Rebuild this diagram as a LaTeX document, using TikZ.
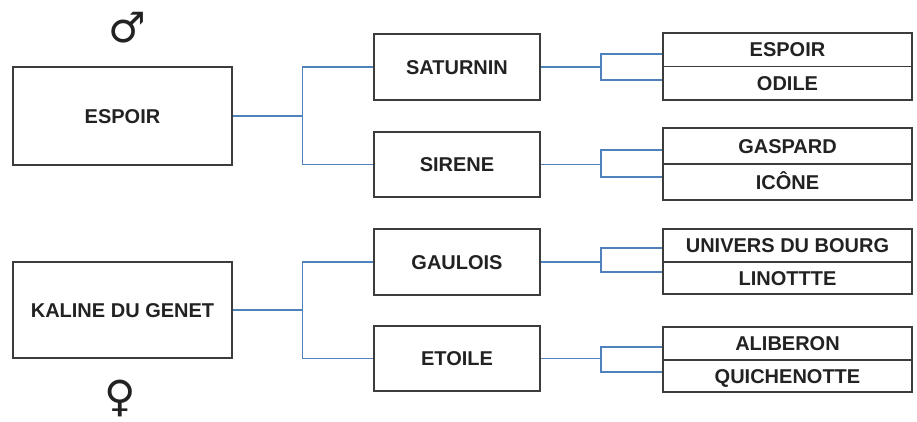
\documentclass[tikz,border=0pt]{standalone}
\usepackage{fontspec}
\setmainfont{Liberation Sans}
\newfontfamily\symfont{DejaVu Sans}
\definecolor{conncol}{RGB}{79,129,189}
\definecolor{boxcol}{RGB}{60,60,60}
\definecolor{txtcol}{RGB}{34,34,34}
\tikzset{
  box/.style={draw=boxcol, line width=1.5pt, rectangle, inner sep=0pt, text=txtcol,
    font=\fontsize{20}{24}\selectfont\bfseries, text height=14.3pt, text depth=0pt},
  conn/.style={draw=conncol, line width=1.6pt},
  sym/.style={text=txtcol, font=\symfont\fontsize{42}{46}\selectfont, inner sep=0pt}
}
\begin{document}
\begin{tikzpicture}[x=1pt,y=-1pt]
\useasboundingbox (0,0) rectangle (917,421);
% generation 1
\node[box, minimum width=219, minimum height=98] (espoir) at (122.5,116) {ESPOIR};
\node[box, minimum width=219, minimum height=96] (kaline) at (122.5,310) {KALINE DU GENET};
\node[sym] (male) at (127,28) {\char"2642};
\node[sym, font=\symfont\fontsize{43}{46}\selectfont] (female) at (120,398) {\char"2640};
% generation 2
\node[box, minimum width=166, minimum height=66] (sat) at (457,67) {SATURNIN};
\node[box, minimum width=166, minimum height=65] (sir) at (457,164.5) {SIRENE};
\node[box, minimum width=166, minimum height=66] (gau) at (457,262) {GAULOIS};
\node[box, minimum width=166, minimum height=65] (eto) at (457,358.5) {ETOILE};
% generation 3
\node[box, minimum width=249, minimum height=33.5] (r1a) at (787.5,49.75) {ESPOIR};
\node[box, minimum width=249, minimum height=33.5] (r1b) at (787.5,83.25) {ODILE};
\node[box, minimum width=249, minimum height=36] (r2a) at (787.5,146) {GASPARD};
\node[box, minimum width=249, minimum height=36] (r2b) at (787.5,182) {ICÔNE};
\node[box, minimum width=249, minimum height=33] (r3a) at (787.5,245.5) {UNIVERS DU BOURG};
\node[box, minimum width=249, minimum height=32] (r3b) at (787.5,278) {LINOTTTE};
\node[box, minimum width=249, minimum height=33] (r4a) at (787.5,343.5) {ALIBERON};
\node[box, minimum width=249, minimum height=32] (r4b) at (787.5,376) {QUICHENOTTE};
% junction x positions
\coordinate (jl) at (302.5,0);
\coordinate (jr) at (601,0);
% left brackets
\draw[conn] (espoir.east) -- (espoir.east -| jl);
\draw[conn] (sat.west) -| (jl |- sir.west) -- (sir.west);
\draw[conn] (kaline.east) -- (kaline.east -| jl);
\draw[conn] (gau.west) -| (jl |- eto.west) -- (eto.west);
% right brackets
\coordinate (t1) at ([yshift=-4pt]r1a.west);
\coordinate (b1) at ([yshift=3pt]r1b.west);
\coordinate (t2) at ([yshift=-4pt]r2a.west);
\coordinate (b2) at ([yshift=5pt]r2b.west);
\coordinate (t3) at ([yshift=-2.5pt]r3a.west);
\coordinate (b3) at ([yshift=6pt]r3b.west);
\coordinate (t4) at ([yshift=-3.5pt]r4a.west);
\coordinate (b4) at ([yshift=4pt]r4b.west);
\draw[conn] (sat.east) -- (sat.east -| jr);
\draw[conn] (t1) -| (jr |- b1) -- (b1);
\draw[conn] (sir.east) -- (sir.east -| jr);
\draw[conn] (t2) -| (jr |- b2) -- (b2);
\draw[conn] (gau.east) -- (gau.east -| jr);
\draw[conn] (t3) -| (jr |- b3) -- (b3);
\draw[conn] (eto.east) -- (eto.east -| jr);
\draw[conn] (t4) -| (jr |- b4) -- (b4);
\end{tikzpicture}
\end{document}
